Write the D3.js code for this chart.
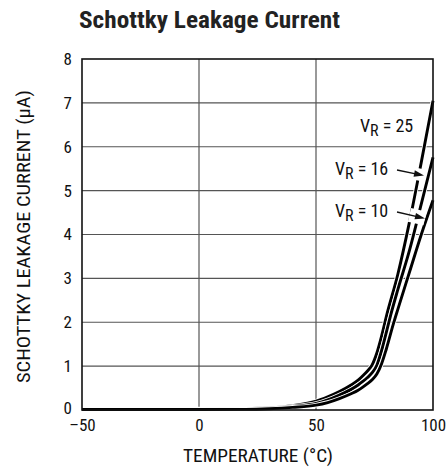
<!DOCTYPE html>
<html>
<head>
<meta charset="utf-8">
<script src="https://cdn.jsdelivr.net/npm/d3@7"></script>
<style>
  html, body { margin: 0; padding: 0; background: #fff; }
  svg { display: block; }
  .cond { font-family: "Liberation Sans Narrow", "Arial Narrow", "Roboto Condensed", "Liberation Sans", sans-serif; }
</style>
</head>
<body>
<svg id="chart" width="446" height="468"></svg>
<script>
// ---- data ----
const title = "Schottky Leakage Current";
const xLabel = "TEMPERATURE (°C)";
const yLabel = "SCHOTTKY LEAKAGE CURRENT (µA)";
const xTicks = [-50, 0, 50, 100];
const yTicks = [0, 1, 2, 3, 4, 5, 6, 7, 8];
const seriesNames = ["25", "16", "10"];
const temps25 = [-50, 0, 20, 30, 40, 50, 55, 60, 65, 68, 70, 72, 74, 76, 78, 80, 85, 90, 95, 100];
const vr25 =    [0.02, 0.02, 0.03, 0.05, 0.1, 0.2, 0.3, 0.42, 0.57, 0.68, 0.78, 0.89, 1.03, 1.3, 1.68, 2.12, 3.1, 4.3, 5.65, 7.05];
const temps16 = [-50, 0, 20, 30, 40, 50, 55, 60, 65, 68, 70, 72, 74, 76, 78, 80, 82, 85, 90, 95, 100];
const vr16 =    [0.015, 0.015, 0.02, 0.04, 0.08, 0.15, 0.23, 0.34, 0.47, 0.57, 0.65, 0.74, 0.85, 1.02, 1.35, 1.76, 2.18, 2.75, 3.65, 4.7, 5.76];
const temps10 = [-50, 0, 20, 30, 40, 50, 55, 60, 65, 68, 70, 72, 74, 76, 78, 80, 83, 85, 90, 95, 100];
const vr10 =    [0.01, 0.01, 0.015, 0.03, 0.06, 0.11, 0.17, 0.26, 0.37, 0.45, 0.52, 0.6, 0.69, 0.82, 1.05, 1.38, 1.95, 2.3, 3.15, 4.0, 4.78];

const svg = d3.select("#chart");
const x = d3.scaleLinear().domain([-50, 100]).range([82, 433]);
const y = d3.scaleLinear().domain([0, 8]).range([410, 59]);

// title
svg.append("text").attr("class", "cond")
  .attr("x", 79).attr("y", 28)
  .attr("font-size", 24).attr("font-weight", "bold").attr("fill", "#222")
  .attr("textLength", 261).attr("lengthAdjust", "spacingAndGlyphs")
  .text(title);

// grid
const grid = svg.append("g");
grid.selectAll("line.gx").data(xTicks.slice(1, -1)).join("line")
  .attr("x1", d => x(d)).attr("x2", d => x(d))
  .attr("y1", y(8)).attr("y2", y(0))
  .attr("stroke", "#555").attr("stroke-width", 1.2);
grid.selectAll("line.gy").data(yTicks.slice(1, -1)).join("line")
  .attr("y1", d => y(d)).attr("y2", d => y(d))
  .attr("x1", x(-50)).attr("x2", x(100))
  .attr("stroke", "#555").attr("stroke-width", 1.2);

// axes (tick labels)
const xAxis = svg.append("g").attr("transform", `translate(0,${y(0)})`)
  .call(d3.axisBottom(x).tickValues(xTicks).tickSize(0).tickPadding(9)
    .tickFormat(d => d < 0 ? "\u2013" + Math.abs(d) : String(d)));
xAxis.select(".domain").remove();
xAxis.selectAll("text").attr("class", "cond").attr("font-size", 17).attr("fill", "#111");

const yAxis = svg.append("g").attr("transform", `translate(${x(-50)},0)`)
  .call(d3.axisLeft(y).tickValues(yTicks).tickSize(0).tickPadding(10));
yAxis.select(".domain").remove();
yAxis.selectAll("text").attr("class", "cond").attr("font-size", 17).attr("fill", "#111");
yAxis.selectAll("text").filter(d => d === 0).attr("dy", "0.2em");

// axis titles
svg.append("text").attr("class", "cond")
  .attr("x", 183).attr("y", 462)
  .attr("font-size", 17.5).attr("fill", "#111")
  .attr("textLength", 150).attr("lengthAdjust", "spacingAndGlyphs")
  .text(xLabel);
svg.append("text").attr("class", "cond")
  .attr("transform", `translate(30,383) rotate(-90)`)
  .attr("font-size", 17.5).attr("fill", "#111")
  .attr("textLength", 293).attr("lengthAdjust", "spacingAndGlyphs")
  .text(yLabel);

// curves
const series = [
  { name: seriesNames[0], t: temps25, v: vr25 },
  { name: seriesNames[1], t: temps16, v: vr16 },
  { name: seriesNames[2], t: temps10, v: vr10 }
];
const line = d3.line().x(d => x(d[0])).y(d => y(d[1])).curve(d3.curveMonotoneX);
const curves = svg.append("g");
series.forEach(s => {
  const pts = s.t.map((t, i) => [t, s.v[i]]);
  curves.append("path").attr("d", line(pts))
    .attr("fill", "none").attr("stroke", "#fff").attr("stroke-width", 4.6);
  curves.append("path").attr("d", line(pts))
    .attr("fill", "none").attr("stroke", "#000").attr("stroke-width", 2.9);
});

// frame
svg.append("rect")
  .attr("x", x(-50)).attr("y", y(8))
  .attr("width", x(100) - x(-50)).attr("height", y(0) - y(8))
  .attr("fill", "none").attr("stroke", "#111").attr("stroke-width", 1.6);

// labels
function vrLabel(tx, ty, val) {
  const t = svg.append("text").attr("class", "cond")
    .attr("x", tx).attr("y", ty).attr("font-size", 18).attr("fill", "#111");
  t.append("tspan").text("V");
  t.append("tspan").attr("dy", 4).attr("font-size", 16).text("R");
  t.append("tspan").attr("dy", -4).text(" = " + val);
}
vrLabel(360, 132, seriesNames[0]);
vrLabel(335, 175, seriesNames[1]);
vrLabel(335, 217, seriesNames[2]);

// arrows with white halos that break the curves
function arrow(x1, y1, x2, y2, halo) {
  const ang = Math.atan2(y2 - y1, x2 - x1);
  const hx = x2 - 16 * Math.cos(ang), hy = y2 - 16 * Math.sin(ang);
  svg.append("line").attr("x1", hx).attr("y1", hy).attr("x2", x2).attr("y2", y2)
    .attr("stroke", "#fff").attr("stroke-width", halo);
  svg.append("line").attr("x1", x1).attr("y1", y1).attr("x2", x2 - 6 * Math.cos(ang)).attr("y2", y2 - 6 * Math.sin(ang))
    .attr("stroke", "#111").attr("stroke-width", 1.3);
  const L = 10, W = 3.2;
  const bx = x2 - L * Math.cos(ang), by = y2 - L * Math.sin(ang);
  const px = -Math.sin(ang) * W, py = Math.cos(ang) * W;
  svg.append("path")
    .attr("d", `M${x2},${y2}L${bx + px},${by + py}L${bx - px},${by - py}Z`)
    .attr("fill", "#111");
}
arrow(397, 170, 424, 175.5, 12);
arrow(397, 212, 425, 218.5, 14);
</script>
</body>
</html>
